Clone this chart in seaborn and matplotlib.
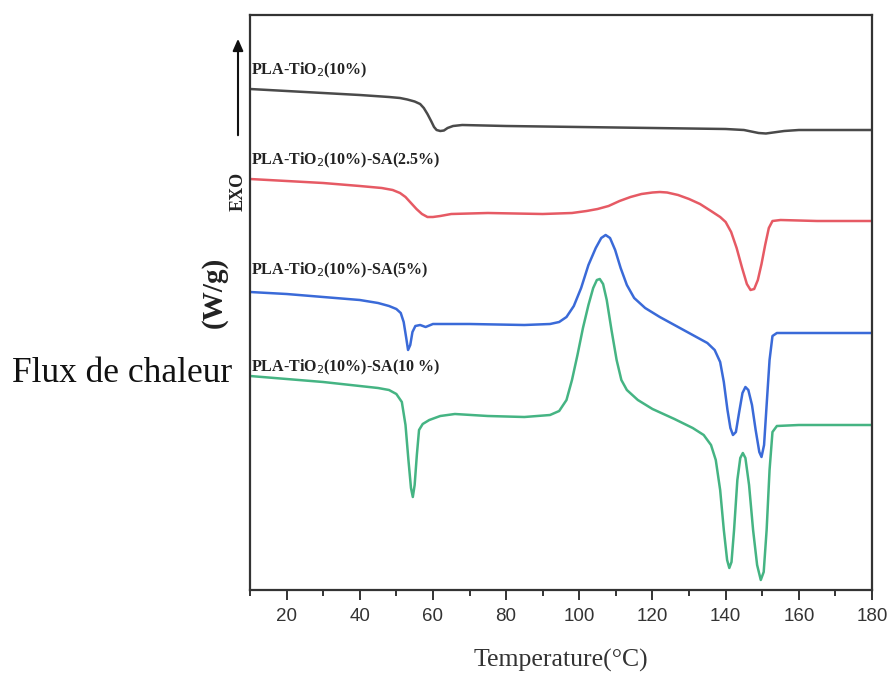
import numpy as np
import pandas as pd
import matplotlib
matplotlib.use("Agg")
import matplotlib.pyplot as plt
import seaborn as sns

# ---- data (temperature in °C, heat flow in arbitrary W/g units, offset curves) ----
t_black = [10, 20, 30, 40, 48, 51, 53, 55, 56.5, 57.5, 58.5, 59.5, 60.3, 61, 62, 63, 64, 65.5, 68, 80, 100, 120, 140, 145, 147, 149, 151, 153, 156, 160, 180]
hf_black = [5.11, 5.09, 5.07, 5.05, 5.03, 5.02, 5.005, 4.985, 4.96, 4.92, 4.86, 4.79, 4.73, 4.70, 4.69, 4.695, 4.72, 4.74, 4.75, 4.74, 4.73, 4.72, 4.71, 4.70, 4.685, 4.67, 4.665, 4.675, 4.69, 4.70, 4.70]

t_red = [10, 20, 30, 40, 46, 49, 51, 52.5, 54, 55.5, 57, 58.5, 60, 62, 65, 75, 90, 98, 102, 105, 108, 111, 114, 117, 120, 122, 124, 127, 130, 133, 136, 138.5, 140, 141.5, 143, 144.5, 145.8, 146.8, 147.8, 148.8, 149.8, 150.8, 151.8, 152.8, 155, 165, 180]
hf_red = [4.21, 4.19, 4.17, 4.14, 4.12, 4.10, 4.07, 4.03, 3.97, 3.91, 3.86, 3.83, 3.83, 3.84, 3.86, 3.87, 3.86, 3.87, 3.89, 3.91, 3.94, 3.99, 4.03, 4.06, 4.075, 4.08, 4.075, 4.05, 4.01, 3.96, 3.89, 3.83, 3.78, 3.68, 3.52, 3.32, 3.16, 3.10, 3.11, 3.20, 3.36, 3.55, 3.72, 3.79, 3.80, 3.79, 3.79]

t_blue = [10, 20, 30, 40, 45, 48, 50, 51.2, 52, 52.7, 53.2, 53.8, 54.4, 55.2, 56.5, 58, 60, 70, 85, 92, 94.5, 96.5, 98.5, 100.5, 102.5, 104.5, 106, 107.2, 108.4, 109.8, 111.3, 113, 115, 118, 122, 127, 132, 135, 137, 138.5, 139.5, 140.5, 141.3, 142, 142.8, 143.7, 144.6, 145.4, 146.2, 147.2, 148.2, 149.2, 149.8, 150.5, 151.2, 152, 152.8, 154, 165, 180]
hf_blue = [3.08, 3.06, 3.03, 3.00, 2.97, 2.94, 2.91, 2.87, 2.78, 2.62, 2.50, 2.55, 2.68, 2.74, 2.75, 2.73, 2.76, 2.76, 2.75, 2.76, 2.78, 2.83, 2.94, 3.12, 3.35, 3.52, 3.62, 3.65, 3.62, 3.50, 3.32, 3.15, 3.02, 2.92, 2.83, 2.73, 2.63, 2.57, 2.50, 2.38, 2.18, 1.90, 1.72, 1.65, 1.68, 1.88, 2.07, 2.13, 2.10, 1.95, 1.70, 1.48, 1.43, 1.55, 1.95, 2.40, 2.64, 2.67, 2.67, 2.67]

t_green = [10, 20, 30, 40, 45, 48, 50, 51.5, 52.5, 53.3, 54, 54.5, 55, 55.6, 56.2, 57.2, 59, 62, 66, 75, 85, 92, 94.5, 96.5, 98, 99.5, 101, 102.5, 103.8, 104.8, 105.6, 106.5, 107.5, 108.8, 110.2, 111.5, 113, 116, 120, 126, 131, 134, 136, 137.3, 138.5, 139.5, 140.4, 141, 141.6, 142.3, 143.2, 144, 144.7, 145.4, 146.4, 147.5, 148.6, 149.6, 150.4, 151.2, 152, 152.8, 154, 160, 180]
hf_green = [2.24, 2.21, 2.18, 2.14, 2.12, 2.10, 2.06, 1.98, 1.75, 1.40, 1.12, 1.03, 1.15, 1.45, 1.70, 1.76, 1.80, 1.84, 1.86, 1.84, 1.83, 1.85, 1.89, 2.00, 2.20, 2.45, 2.72, 2.95, 3.12, 3.20, 3.21, 3.16, 3.00, 2.70, 2.40, 2.20, 2.10, 2.00, 1.91, 1.81, 1.72, 1.65, 1.55, 1.40, 1.10, 0.70, 0.40, 0.32, 0.38, 0.70, 1.20, 1.42, 1.47, 1.42, 1.15, 0.70, 0.35, 0.20, 0.28, 0.70, 1.30, 1.68, 1.74, 1.75, 1.75]

labels = ["PLA-TiO$_2$(10%)", "PLA-TiO$_2$(10%)-SA(2.5%)", "PLA-TiO$_2$(10%)-SA(5%)", "PLA-TiO$_2$(10%)-SA(10 %)"]
label_y = [5.30, 4.40, 3.30, 2.33]
colors = ["#4a4a4a", "#e65a64", "#3a6ad8", "#45b483"]

xticks = [20, 40, 60, 80, 100, 120, 140, 160, 180]

frames = []
for name, t, h in zip(labels, [t_black, t_red, t_blue, t_green], [hf_black, hf_red, hf_blue, hf_green]):
    frames.append(pd.DataFrame({"T": t, "HF": h, "sample": name}))
df = pd.concat(frames, ignore_index=True)

sns.set_theme(style="white")
plt.rcParams["font.family"] = ["Liberation Serif", "DejaVu Serif"]

fig = plt.figure(figsize=(8.9, 6.77), dpi=100)
ax = fig.add_axes([250 / 890, 1 - 590 / 677, 622 / 890, 575 / 677])

sns.lineplot(data=df, x="T", y="HF", hue="sample", palette=dict(zip(labels, colors)),
             sort=False, estimator=None, linewidth=1.8, legend=False, ax=ax)

ax.set_xlim(10, 180)
ax.set_ylim(0.10, 5.85)
ax.set_xticks(xticks)
ax.set_xticks(list(range(10, 181, 10)), minor=True)
ax.set_xticklabels([str(v) for v in xticks], fontfamily="Liberation Sans", fontsize=13.5, color="#333333")
ax.set_yticks([])
ax.tick_params(axis="x", which="major", direction="out", length=7, width=1.4, bottom=True, color="#333333", pad=6)
ax.tick_params(axis="x", which="minor", direction="out", length=4, width=1.4, bottom=True, color="#333333")
for s in ax.spines.values():
    s.set_linewidth(1.6)
    s.set_color("#333333")

ax.set_xlabel("Temperature(°C)", fontsize=18.5, color="#333333", labelpad=17)
ax.set_ylabel("")

for lab, y in zip(labels, label_y):
    ax.text(10.3, y, lab, fontsize=11.5, fontweight="bold", color="#222222", va="center", ha="left")

# y-axis annotations
fig.patches.append(matplotlib.patches.FancyArrowPatch(
    (238 / 890, 1 - 138 / 677), (238 / 890, 1 - 36 / 677), transform=fig.transFigure,
    arrowstyle="-|>,head_length=0.5,head_width=0.22", mutation_scale=14, color="#111111", linewidth=1.5))
fig.text(238 / 890, 1 - 191 / 677, "EXO", rotation=90, fontsize=13, fontweight="bold", ha="center", va="center", color="#222222")
fig.text(214 / 890, 1 - 292 / 677, "(W/g)", rotation=90, fontsize=21, fontweight="bold", ha="center", va="center", color="#222222")
fig.text(12 / 890, 1 - 374 / 677, "Flux de chaleur", fontsize=25.5, ha="left", va="center", color="#111111")

fig.savefig("out.png", dpi=100)
